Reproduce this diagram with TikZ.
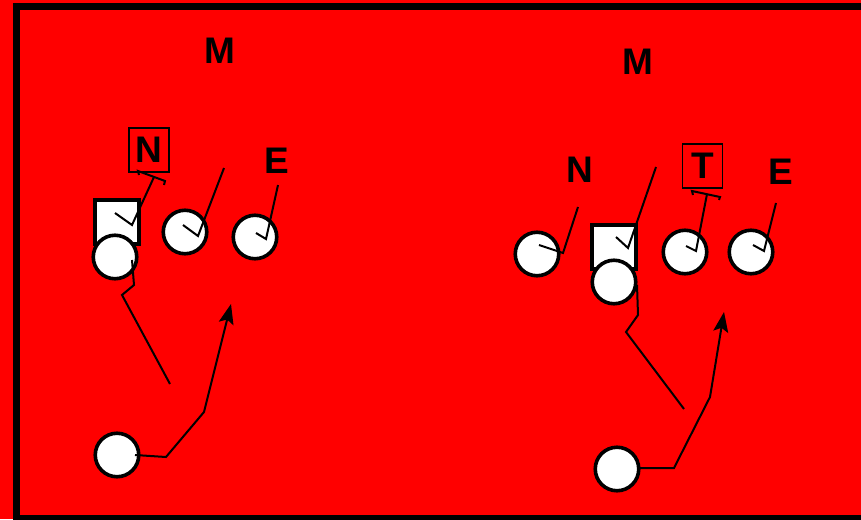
\documentclass[tikz,border=0pt]{standalone}
\usepackage{fontspec}
\setmainfont{Liberation Sans}
\usetikzlibrary{arrows.meta}

\tikzset{
  player/.style={circle, draw, fill=white, line width=3.6pt, minimum size=43.5pt, inner sep=0pt},
  snapbox/.style={rectangle, draw, fill=white, line width=3.6pt, minimum size=44.5pt, inner sep=0pt},
  lbl/.style={font=\fontsize{37}{42}\selectfont\bfseries, inner sep=0pt},
  tagbox/.style={lbl, draw, line width=1.7pt, minimum width=40pt, minimum height=44pt},
  blk/.style={line width=2pt},
  route/.style={line width=2pt, -{Stealth[length=20pt,width=15pt,inset=4pt]}}
}

\begin{document}
\begin{tikzpicture}[x=1pt,y=-1pt]
  \clip (0,0) rectangle (861,519);
  \fill[red] (0,0) rectangle (861,519);
  \draw[line width=7pt] (16.5,6.5) rectangle (880,518.5);

  % left play
  \node[lbl] (mL) at (220,51) {M};
  \node[tagbox] (nL) at (149,150) {N};
  \node[lbl] (eLbl) at (277,161) {E};
  \node[snapbox] (cL) at (117,222) {};
  \node[player] (qbL) at (115,257) {};
  \node[player] (gL) at (185,232) {};
  \node[player] (eL) at (255,237) {};
  \node[player] (rbL) at (117,455) {};

  \draw[blk] (139,175) -- (138,171) -- (165,181) -- (164,185);
  \draw[blk] (115,213) -- (132,225) -- (154,177);
  \draw[blk] (183,225) -- (198,236) -- (224,168);
  \draw[blk] (256,233) -- (266,239) -- (278,185);
  \draw[blk] (132,260) -- (134,285) -- (122,295) -- (170,384);
  \draw[route] (135,455) -- (166,457) -- (204,412) -- (231,304);

  % right play
  \node[lbl] (mR) at (638,62) {M};
  \node[lbl] (nLbl) at (580,170) {N};
  \node[tagbox] (tR) at (702.5,166) {T};
  \node[lbl] (eLblR) at (781,172) {E};
  \node[player] (nR) at (537,254) {};
  \node[snapbox] (cR) at (614,247) {};
  \node[player] (qbR) at (614,282) {};
  \node[player] (tgR) at (685,252) {};
  \node[player] (eR) at (751,252) {};
  \node[player] (rbR) at (617,469) {};

  \draw[blk] (539,245) -- (563,253) -- (578,207);
  \draw[blk] (616,237) -- (628,248) -- (656,167);
  \draw[blk] (693,195) -- (692,191) -- (720,197) -- (719,200);
  \draw[blk] (686,246) -- (696,251) -- (707,194);
  \draw[blk] (753,245) -- (764,251) -- (776,203);
  \draw[blk] (637,285) -- (638,315) -- (626,332) -- (684,409);
  \draw[route] (640,468) -- (674,468) -- (710,397) -- (724,312);
\end{tikzpicture}
\end{document}
